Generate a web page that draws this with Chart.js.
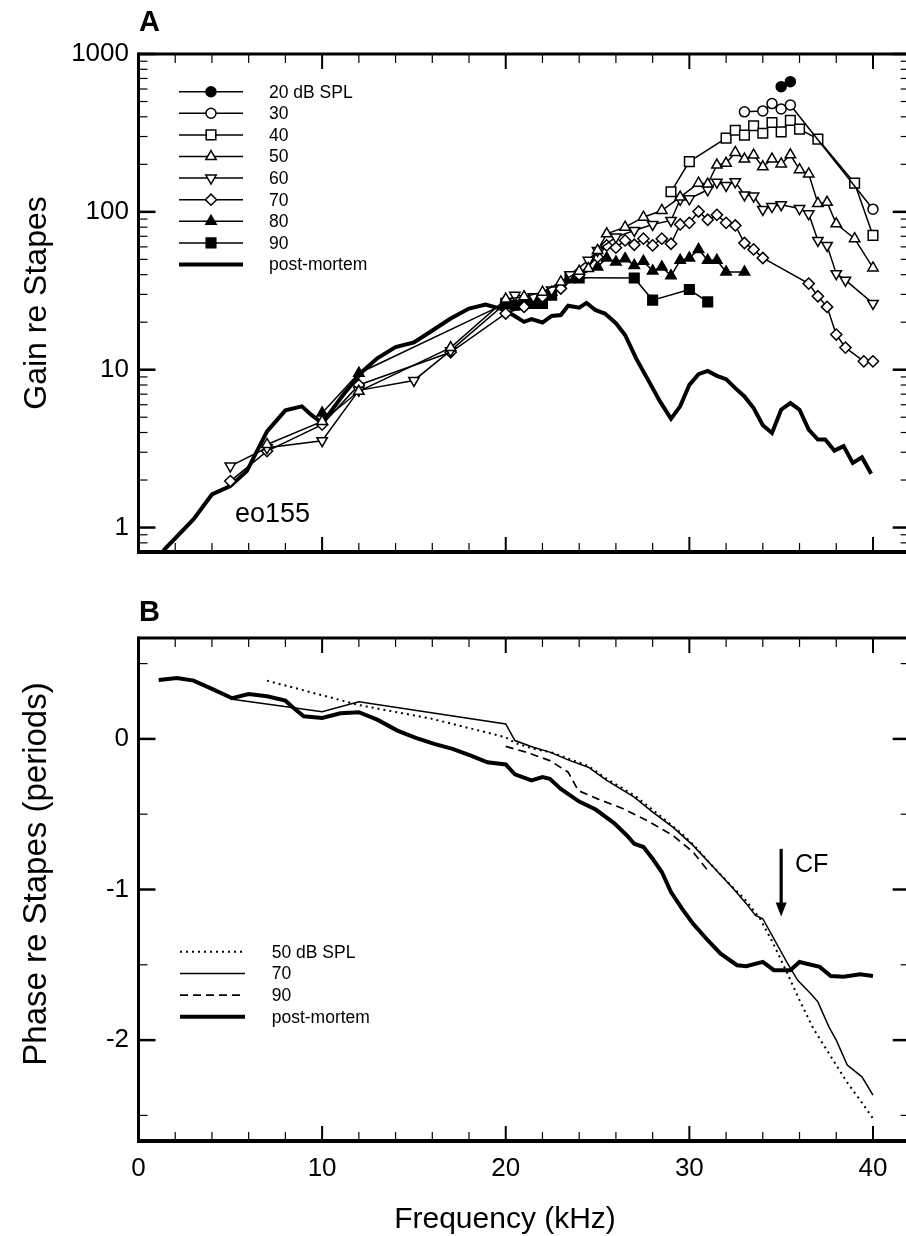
<!DOCTYPE html>
<html>
<head>
<meta charset="utf-8">
<title>Gain and phase re stapes, eo155</title>
<script src="https://cdn.jsdelivr.net/npm/chart.js@4.4.1/dist/chart.umd.min.js"></script>
<style>
  html, body { margin: 0; padding: 0; background: #fff; }
  #wrap { position: relative; width: 906px; height: 1236px; overflow: hidden; }
  .panel { position: absolute; left: 0; }
  #panelA { top: 0; }
  #panelB { top: 600px; }
</style>
</head>
<body>
<div id="wrap">
  <div class="panel" id="panelA"><canvas id="chartA" width="920" height="600"></canvas></div>
  <div class="panel" id="panelB"><canvas id="chartB" width="920" height="636"></canvas></div>
</div>
<script>
/* =============================================
   DATA  (frequency in kHz)
   ============================================= */
const freqTicks = [0, 10, 20, 30, 40];
const gainTicks = [1, 10, 100, 1000];
const phaseTicks = [-2, -1, 0];

// Panel A - gain re stapes
const f20 = [35, 35.5];
const g20 = [621, 668];

const f30 = [33, 34, 34.5, 35, 35.5, 40];
const g30 = [430, 436, 485, 448, 475, 104];

const f40 = [29, 30, 32, 32.5, 33, 33.5, 34, 34.5, 35, 35.5, 36, 37, 39, 40];
const g40 = [134, 208, 293, 329, 306, 351, 315, 368, 321, 380, 334, 289, 152, 70.9];

const f50 = [7, 10, 12, 17, 20, 21, 22, 23, 24, 24.5, 25, 25.5, 26.5, 27.5, 28.5, 29.5, 30.5, 31, 31.5, 32, 32.5, 33, 33.5, 34, 34.5, 35, 35.5, 36, 36.5, 37, 37.5, 38, 39, 40];
const g50 = [3.36, 4.7, 7.3, 13.8, 28, 29, 31, 36, 42, 43.7, 57, 72.6, 80, 92.5, 102, 124, 152, 150, 198, 203, 238, 216, 229, 193, 216, 201, 230, 185, 174, 113, 115, 84, 67.6, 44.1];

const f60 = [5, 7, 10, 12, 15, 17, 20.5, 21.5, 22.5, 23.5, 24.5, 25, 26, 27, 28, 29, 29.5, 30, 31, 31.5, 32, 32.5, 33, 33.5, 34, 34.5, 35, 36, 36.5, 37, 37.5, 38, 38.5, 40];
const g60 = [2.45, 3.2, 3.55, 7.4, 8.55, 13.2, 29.6, 29, 32, 40, 49.3, 57, 69.2, 76.2, 83.2, 88.2, 120, 121, 138, 154, 147, 155, 128, 126, 103.5, 108, 111, 105, 97.1, 65.9, 61.3, 40.6, 36.9, 26.3];

const f70 = [5, 7, 10, 12, 17, 20, 21, 22, 23, 24, 25, 25.5, 26, 26.5, 27, 27.5, 28, 28.5, 29, 29.5, 30, 30.5, 31, 31.5, 32, 32.5, 33, 33.5, 34, 36.5, 37, 37.5, 38, 38.5, 39.5, 40];
const g70 = [1.97, 3.05, 4.49, 8.0, 12.9, 22.7, 25, 29, 32.7, 40, 51.8, 61.3, 59.3, 65.9, 61.9, 67.6, 61.3, 67.6, 62.8, 83.2, 85.2, 100.5, 89.1, 95.7, 85.2, 82, 63.5, 57.8, 51, 35.1, 29.2, 25, 16.7, 13.8, 11.3, 11.3];

const f80 = [10, 12, 20, 21, 22, 22.5, 23, 24, 25, 25.5, 26, 26.5, 27, 27.5, 28, 28.5, 29, 29.5, 30, 30.5, 31, 31.5, 32, 33];
const g80 = [5.32, 9.5, 26.3, 27, 30, 31, 34.3, 39.6, 44.8, 51, 48.2, 50.5, 45.8, 48.6, 42.2, 44.8, 39.3, 49.3, 51, 57.8, 49.3, 49.3, 41.6, 41.6];

const f90 = [20, 20.5, 21.5, 22, 22.5, 23.5, 24, 27, 28, 30, 31];
const g90 = [26.3, 25.6, 26.3, 26.3, 29.6, 38.2, 38.2, 38.1, 27.6, 32.2, 26.9];

const fPmA = [1.35, 3.0, 4.0, 5.0, 5.9, 7.0, 8.0, 8.9, 9.4, 10.0, 11.15, 12.2, 13.0, 14.0, 15.0, 15.9, 17.0, 18.0, 18.9, 19.7, 20.4, 21.0, 21.4, 22.0, 22.5, 23.0, 23.4, 24.0, 24.4, 24.9, 25.4, 26.0, 26.5, 27.1, 28.0, 28.4, 29.0, 29.5, 30.0, 30.5, 31.0, 31.5, 32.0, 32.5, 33.0, 33.5, 34.0, 34.5, 35.0, 35.5, 36.0, 36.5, 37.0, 37.4, 37.9, 38.4, 38.9, 39.4, 39.9];
const gPmA = [0.713, 1.13, 1.62, 1.83, 2.28, 4.07, 5.53, 5.86, 5.19, 4.59, 6.93, 9.75, 11.8, 13.9, 14.9, 17.4, 21.1, 24.4, 25.9, 24.4, 22.2, 20.1, 20.9, 19.9, 21.9, 22.2, 25.4, 24.7, 26.5, 23.8, 22.7, 19.7, 16.6, 11.8, 7.64, 6.30, 4.89, 5.86, 8.02, 9.37, 9.83, 9.14, 8.71, 7.64, 6.77, 5.71, 4.45, 3.97, 5.58, 6.15, 5.58, 4.17, 3.61, 3.61, 3.07, 3.28, 2.57, 2.79, 2.19];

// Panel B - phase re stapes (periods)
const fPh50 = [7, 12, 16, 20, 20.5, 21.5, 22.5, 23.5, 24.5, 25.5, 27, 28, 29, 29.5, 30.2, 31.3, 32.4, 33, 33.85, 34.57, 35.3, 36, 36.75, 37.66, 38.57, 39.3, 40];
const ph50 = [0.387, 0.225, 0.133, 0.011, -0.027, -0.065, -0.09, -0.135, -0.18, -0.265, -0.375, -0.47, -0.57, -0.619, -0.70, -0.85, -0.99, -1.061, -1.194, -1.359, -1.547, -1.735, -1.923, -2.100, -2.277, -2.399, -2.52];

const fPh70 = [5, 8.25, 10, 12, 20, 20.5, 21.5, 22.4, 23.5, 24.5, 25.5, 27, 28, 29.1, 30.2, 31.3, 32.4, 33.1, 33.6, 34, 34.6, 35.3, 35.9, 36.6, 37, 37.6, 38, 38.6, 39.4, 40];
const ph70 = [0.265, 0.21, 0.181, 0.247, 0.099, -0.011, -0.055, -0.088, -0.144, -0.188, -0.276, -0.387, -0.486, -0.586, -0.707, -0.851, -0.995, -1.094, -1.172, -1.194, -1.326, -1.481, -1.603, -1.691, -1.746, -1.912, -2.0, -2.166, -2.244, -2.365];

const fPh90 = [20, 21.1, 22.4, 23.4, 23.95, 25, 26.4, 27.7, 29.1, 30.2, 31];
const ph90 = [-0.05, -0.088, -0.144, -0.221, -0.343, -0.398, -0.464, -0.542, -0.641, -0.751, -0.873];

const fPmB = [1.1, 2.1, 3.0, 4.0, 5.1, 6.0, 7.0, 8.0, 8.4, 9.0, 10.0, 11.0, 12.0, 13.0, 14.1, 15.1, 16.1, 17.1, 18.1, 19.0, 20.0, 20.5, 21.4, 22.0, 22.4, 23.0, 24.0, 24.9, 25.9, 26.6, 27.0, 27.5, 28.0, 28.5, 29.0, 29.6, 30.2, 31.0, 31.7, 32.6, 33.1, 34.0, 34.6, 35.5, 36.0, 37.1, 37.7, 38.4, 39.3, 40.0];
const phPmB = [0.391, 0.404, 0.387, 0.332, 0.270, 0.298, 0.283, 0.254, 0.210, 0.150, 0.139, 0.170, 0.177, 0.128, 0.055, 0.007, -0.033, -0.066, -0.111, -0.155, -0.170, -0.235, -0.276, -0.254, -0.265, -0.332, -0.416, -0.469, -0.559, -0.641, -0.696, -0.718, -0.796, -0.884, -1.017, -1.127, -1.227, -1.337, -1.426, -1.503, -1.510, -1.481, -1.536, -1.536, -1.481, -1.514, -1.574, -1.580, -1.563, -1.574];

// characteristic frequency marker
const cfFreq = 35;
const cfArrow = [-0.73, -1.18];

/* =============================================
   LAYOUT
   ============================================= */
const FONT = '"Liberation Sans", Arial, Helvetica, sans-serif';
const X_MAX = 42;          // axis runs past the right edge of the page
const AXIS_LEFT = 138.5;   // px from canvas left to plot area

function zip(xs, ys) {
  return xs.map((x, i) => ({ x, y: ys[i] }));
}

function series(label, xs, ys, style) {
  return Object.assign({
    label,
    data: zip(xs, ys),
    borderColor: '#000',
    borderWidth: 1.5,
    pointRadius: 5,
    pointBorderWidth: 1.5,
    pointBorderColor: '#000',
    pointBackgroundColor: '#fff',
    tension: 0
  }, style);
}

function line(ctx, x1, y1, x2, y2) {
  ctx.beginPath();
  ctx.moveTo(x1, y1);
  ctx.lineTo(x2, y2);
  ctx.stroke();
}

/* =============================================
   PLUGIN: frame, inward ticks, legend, texts
   ============================================= */
const decor = {
  id: 'decor',
  afterDatasetsDraw(chart, args, o) {
    const { ctx, chartArea: a, scales: { x, y } } = chart;
    ctx.save();
    ctx.strokeStyle = '#000';
    ctx.fillStyle = '#000';
    ctx.lineCap = 'butt';

    // frame
    ctx.lineWidth = 3;
    line(ctx, a.left, a.top, a.right, a.top);
    line(ctx, a.left, a.top - 1.5, a.left, a.bottom + 2);
    line(ctx, a.right, a.top, a.right, a.bottom);
    ctx.lineWidth = 4;
    line(ctx, a.left - 1.5, a.bottom, a.right, a.bottom);

    // x ticks (bottom + top)
    for (let f = 2; f <= X_MAX; f += 2) {
      const px = x.getPixelForValue(f);
      const major = f % 10 === 0;
      ctx.lineWidth = major ? 2 : 1.2;
      const len = major ? 15 : 9;
      line(ctx, px, a.bottom, px, a.bottom - len);
      line(ctx, px, a.top, px, a.top + len);
    }
    // y ticks (left + right)
    o.yMajor.forEach(v => {
      const py = y.getPixelForValue(v);
      ctx.lineWidth = 2.5;
      line(ctx, a.left, py, a.left + 17, py);
      line(ctx, a.right, py, a.right - 17, py);
    });
    o.yMinor.forEach(v => {
      const py = y.getPixelForValue(v);
      ctx.lineWidth = 1.2;
      line(ctx, a.left, py, a.left + 9, py);
      line(ctx, a.right, py, a.right - 9, py);
    });

    // legend
    const lg = o.legend;
    lg.items.forEach((ds, i) => {
      const yy = lg.y + i * lg.dy;
      ctx.lineWidth = ds.borderWidth;
      ctx.setLineDash(ds.borderDash || []);
      line(ctx, lg.x1, yy, lg.x2, yy);
      ctx.setLineDash([]);
      if (ds.pointStyle && ds.pointRadius) {
        ctx.lineWidth = ds.pointBorderWidth;
        ctx.fillStyle = ds.pointBackgroundColor;
        Chart.helpers.drawPoint(ctx, {
          pointStyle: ds.pointStyle,
          rotation: ds.pointRotation || 0,
          radius: ds.pointRadius,
          borderWidth: ds.pointBorderWidth
        }, (lg.x1 + lg.x2) / 2, yy);
      }
      ctx.fillStyle = '#000';
      ctx.font = lg.font;
      ctx.textAlign = 'left';
      ctx.textBaseline = 'middle';
      ctx.fillText(ds.label, lg.tx, yy + 1);
    });

    // free texts
    o.texts.forEach(t => {
      ctx.save();
      ctx.font = t.font;
      ctx.textAlign = t.align || 'left';
      ctx.textBaseline = 'middle';
      ctx.translate(t.x, t.y);
      if (t.rot) ctx.rotate(t.rot);
      ctx.fillText(t.text, 0, 0);
      ctx.restore();
    });

    // CF arrow
    if (o.arrow) {
      const ax = x.getPixelForValue(o.arrow.freq);
      const y1 = y.getPixelForValue(o.arrow.from);
      const y2 = y.getPixelForValue(o.arrow.to);
      ctx.lineWidth = 3.2;
      line(ctx, ax, y1, ax, y2 - 12);
      ctx.beginPath();
      ctx.moveTo(ax - 5.5, y2 - 14);
      ctx.lineTo(ax + 5.5, y2 - 14);
      ctx.lineTo(ax, y2);
      ctx.closePath();
      ctx.fill();
    }
    ctx.restore();
  }
};

function fixedScale(ticks, size, axis) {
  return {
    afterBuildTicks: s => { s.ticks = ticks.map(v => ({ value: v })); },
    afterFit: s => { if (axis === 'y') s.width = size; else s.height = size; }
  };
}

/* =============================================
   PANEL A - GAIN
   ============================================= */
const levelStyles = [
  ['20 dB SPL', f20, g20, { pointStyle: 'circle', pointRadius: 5, pointBackgroundColor: '#000' }],
  ['30', f30, g30, { pointStyle: 'circle', pointRadius: 5 }],
  ['40', f40, g40, { pointStyle: 'rect', pointRadius: 6.8 }],
  ['50', f50, g50, { pointStyle: 'triangle', pointRadius: 6 }],
  ['60', f60, g60, { pointStyle: 'triangle', pointRotation: 180, pointRadius: 6 }],
  ['70', f70, g70, { pointStyle: 'rectRot', pointRadius: 5.6 }],
  ['80', f80, g80, { pointStyle: 'triangle', pointRadius: 6, pointBackgroundColor: '#000' }],
  ['90', f90, g90, { pointStyle: 'rect', pointRadius: 6.8, pointBackgroundColor: '#000' }]
];
const gainSets = levelStyles.map(([l, xs, ys, st]) => series(l, xs, ys, st));
gainSets.push(series('post-mortem', fPmA, gPmA, { borderWidth: 4, pointRadius: 0, pointStyle: false }));

const logMinor = [];
[0.1, 1, 10, 100].forEach(d => { for (let k = 2; k <= 9; k++) logMinor.push(k * d); });

new Chart(document.getElementById('chartA'), {
  type: 'line',
  data: { datasets: gainSets },
  options: {
    responsive: false,
    animation: false,
    events: [],
    layout: { padding: { left: 0, top: 54, right: 920 - 909.7, bottom: 48 } },
    scales: {
      x: { type: 'linear', min: 0, max: X_MAX, display: false },
      y: Object.assign({
        type: 'logarithmic', min: 0.726, max: 1000,
        grid: { display: false, drawTicks: false },
        border: { display: false },
        ticks: { color: '#000', padding: 9.5, font: { family: FONT, size: 26 }, callback: v => String(v) }
      }, fixedScale(gainTicks, AXIS_LEFT, 'y'))
    },
    plugins: {
      legend: { display: false },
      tooltip: { enabled: false },
      decor: {
        yMajor: gainTicks,
        yMinor: logMinor.filter(v => v > 0.73 && v < 1000),
        legend: { items: gainSets, x1: 179, x2: 243, tx: 269, y: 91.7, dy: 21.6, font: '17.5px ' + FONT },
        texts: [
          { text: 'A', x: 139, y: 23, font: 'bold 29px ' + FONT },
          { text: 'Gain re Stapes', x: 37, y: 303, rot: -Math.PI / 2, align: 'center', font: '32px ' + FONT },
          { text: 'eo155', x: 235, y: 515, font: '27px ' + FONT }
        ]
      }
    }
  },
  plugins: [decor]
});

/* =============================================
   PANEL B - PHASE
   ============================================= */
const phaseSets = [
  series('50 dB SPL', fPh50, ph50, { pointRadius: 0, borderWidth: 2, borderDash: [2, 4] }),
  series('70', fPh70, ph70, { pointRadius: 0, borderWidth: 1.5 }),
  series('90', fPh90, ph90, { pointRadius: 0, borderWidth: 1.7, borderDash: [8, 5] }),
  series('post-mortem', fPmB, phPmB, { pointRadius: 0, borderWidth: 4 })
];

new Chart(document.getElementById('chartB'), {
  type: 'line',
  data: { datasets: phaseSets },
  options: {
    responsive: false,
    animation: false,
    events: [],
    layout: { padding: { left: 0, top: 38, right: 920 - 909.7, bottom: 0 } },
    scales: {
      x: Object.assign({
        type: 'linear', min: 0, max: X_MAX,
        grid: { display: false, drawTicks: false },
        border: { display: false },
        ticks: { color: '#000', padding: 12, maxRotation: 0, autoSkip: false, font: { family: FONT, size: 26 } }
      }, fixedScale(freqTicks, 95, 'x')),
      y: Object.assign({
        type: 'linear', min: -2.67, max: 0.67,
        grid: { display: false, drawTicks: false },
        border: { display: false },
        ticks: { color: '#000', padding: 9.5, font: { family: FONT, size: 26 } }
      }, fixedScale(phaseTicks, AXIS_LEFT, 'y'))
    },
    plugins: {
      legend: { display: false },
      tooltip: { enabled: false },
      decor: {
        yMajor: phaseTicks,
        yMinor: [0.5, -0.5, -1.5, -2.5],
        legend: { items: phaseSets, x1: 180, x2: 245, tx: 271.7, y: 351.7, dy: 21.7, font: '17.5px ' + FONT },
        arrow: { freq: cfFreq, from: cfArrow[0], to: cfArrow[1] },
        texts: [
          { text: 'B', x: 139, y: 13, font: 'bold 29px ' + FONT },
          { text: 'Phase re Stapes (periods)', x: 37, y: 274, rot: -Math.PI / 2, align: 'center', font: '33px ' + FONT },
          { text: 'Frequency (kHz)', x: 505, y: 620, align: 'center', font: '30px ' + FONT },
          { text: 'CF', x: 795, y: 265, font: '25px ' + FONT }
        ]
      }
    }
  },
  plugins: [decor]
});
</script>
</body>
</html>
